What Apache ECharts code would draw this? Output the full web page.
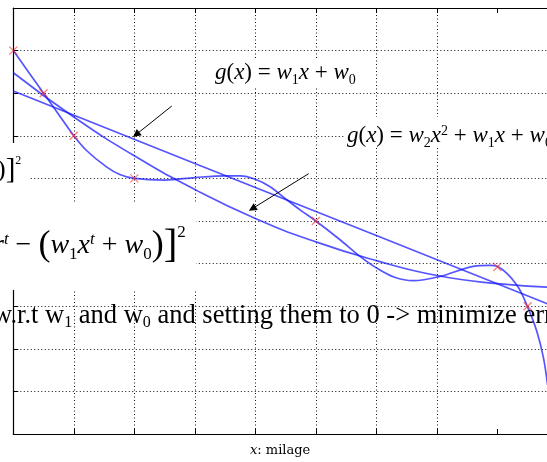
<!DOCTYPE html>
<html><head><meta charset="utf-8">
<script src="https://cdn.jsdelivr.net/npm/echarts@6/dist/echarts.min.js"></script>
<style>html,body{margin:0;padding:0;background:#fff}#c{width:547px;height:462px}</style>
</head><body><div id="c"></div>
<script>
// ---- data ----
const xTicks = [0, 1, 2, 3, 4, 5, 6, 7, 8];
const markerX = [0, 0.5, 1, 2, 5, 8, 8.5];
const markerY = [9, 8, 7, 6, 5, 3.92, 3.0];

const linX = [0, 3, 6, 9];
const linY = [8.05, 6.35, 4.66, 2.96];

const quadX = [0, 1, 2, 3, 4, 5, 6, 7, 8, 9];
const quadY = [8.48, 7.44, 6.53, 5.74, 5.06, 4.51, 4.07, 3.72, 3.53, 3.44];

const polyX = [0, 0.25, 0.5, 0.75, 1, 1.21, 1.54, 1.76, 2, 2.5, 3, 3.5, 3.75, 4, 4.25, 4.5, 4.75, 5, 5.4, 5.73, 6, 6.3, 6.61, 7.05, 7.6, 7.88, 8, 8.32, 8.5, 8.65, 8.76, 8.83];
const polyY = [9, 8.5, 8, 7.5, 7, 6.655, 6.27, 6.09, 6.0, 5.96, 6.02, 6.06, 6.06, 5.98, 5.8, 5.52, 5.25, 5.0, 4.56, 4.17, 3.9, 3.68, 3.6, 3.70, 3.935, 3.96, 3.935, 3.5, 2.98, 2.42, 1.80, 1.15];

const arrow1 = [[2.62, 7.70], [2.03, 7.03]];
const arrow2 = [[4.88, 6.11], [3.95, 5.29]];

const xName = 'milage';

// ---- chart ----
const pairs = (xs, ys) => xs.map((x, i) => [x, ys[i]]);
const blue = 'rgba(20,20,255,0.72)';
const gridDots = {color: '#111', width: 1, type: [1, 2.5]};
const serif = 'Liberation Serif';

const chart = echarts.init(document.getElementById('c'), null, {renderer: 'canvas'});

function mathRich(size) {
  const lh = size + 6;
  const base = {fontFamily: serif, lineHeight: lh, fill: '#000', verticalAlign: 'middle'};
  const small = Math.round(size * 0.6);
  return {
    i: Object.assign({}, base, {fontStyle: 'italic', fontSize: size}),
    n: Object.assign({}, base, {fontSize: size}),
    sub: Object.assign({}, base, {fontSize: small, padding: [Math.round(size * 0.6), 0, 0, 0]}),
    sup: Object.assign({}, base, {fontStyle: 'italic', fontSize: small, padding: [0, 0, Math.round(size * 0.45), 0]}),
    supn: Object.assign({}, base, {fontSize: small, padding: [0, 0, Math.round(size * 0.45), 0]}),
    bp: Object.assign({}, base, {fontSize: Math.round(size * 1.3)}),
    bb: Object.assign({}, base, {fontSize: Math.round(size * 1.45)}),
    sup2: Object.assign({}, base, {fontSize: small, padding: [0, 0, Math.round(size * 0.95), 0]})
  };
}

const option = {
  animation: false,
  backgroundColor: '#fff',
  grid: {left: 13.3, right: 0, top: 8, bottom: 25, containLabel: false},
  xAxis: [{
    type: 'value', min: 0, max: 8.82, interval: 1, position: 'bottom',
    axisLine: {show: true, lineStyle: {color: '#000', width: 1.2}},
    axisTick: {show: true, inside: true, length: 5, customValues: xTicks, lineStyle: {color: '#000'}},
    axisLabel: {show: false, customValues: xTicks},
    splitLine: {show: true, showMaxLine: false, lineStyle: gridDots},
    name: '{i|x}{n|: ' + xName + '}', nameLocation: 'middle', nameGap: 10,
    nameTextStyle: {rich: {
      i: {fontFamily: 'DejaVu Serif', fontStyle: 'italic', fontSize: 13, color: '#000'},
      n: {fontFamily: 'DejaVu Serif', fontSize: 13, color: '#000'}
    }}
  }, {
    type: 'value', min: 0, max: 8.82, interval: 1, position: 'top',
    axisLine: {show: true, lineStyle: {color: '#000', width: 1.2}},
    axisTick: {show: true, inside: true, length: 5, customValues: xTicks, lineStyle: {color: '#000'}},
    axisLabel: {show: false, customValues: xTicks},
    splitLine: {show: false}
  }],
  yAxis: [{
    type: 'value', min: 0, max: 10, interval: 1,
    axisLine: {show: true, lineStyle: {color: '#000', width: 1.2}},
    axisTick: {show: true, inside: true, length: 5, lineStyle: {color: '#000'}},
    axisLabel: {show: false},
    splitLine: {show: true, lineStyle: gridDots}
  }],
  series: [{
    type: 'line', data: pairs(linX, linY), symbol: 'none', smooth: false,
    lineStyle: {color: blue, width: 1.7}, silent: true, z: 3
  }, {
    type: 'line', data: pairs(quadX, quadY), symbol: 'none', smooth: true,
    lineStyle: {color: blue, width: 1.7}, silent: true, z: 3
  }, {
    type: 'line', data: pairs(polyX, polyY), symbol: 'none', smooth: 0.35,
    lineStyle: {color: blue, width: 1.7}, silent: true, z: 3
  }, {
    type: 'scatter', data: pairs(markerX, markerY),
    symbol: 'path://M0,0L10,10M10,0L0,10', symbolSize: 8,
    itemStyle: {color: 'rgba(0,0,0,0)', borderColor: 'rgba(255,40,40,0.75)', borderWidth: 1.3},
    silent: true, z: 4,
    markLine: {
      silent: true, symbol: ['none', 'triangle'], symbolSize: 8,
      label: {show: false},
      lineStyle: {color: '#000', width: 1, type: 'solid'},
      emphasis: {disabled: true},
      data: [
        [{coord: arrow1[0]}, {coord: arrow1[1]}],
        [{coord: arrow2[0]}, {coord: arrow2[1]}]
      ]
    }
  }],
  graphic: [
    {type: 'rect', z: 100, shape: {x: -2, y: 143, width: 32, height: 61}, style: {fill: '#fff'}},
    {type: 'rect', z: 100, shape: {x: -2, y: 202, width: 198, height: 88}, style: {fill: '#fff'}},
    {type: 'rect', z: 100, shape: {x: 205, y: 58, width: 157, height: 30}, style: {fill: '#fff'}},
    {type: 'rect', z: 100, shape: {x: 345, y: 117, width: 215, height: 31}, style: {fill: '#fff'}},
    {type: 'text', z: 101, style: {
      x: 215, y: 73, align: 'left', verticalAlign: 'middle',
      text: '{i|g}{n|(}{i|x}{n|) = }{i|w}{sub|1}{i|x}{n| + }{i|w}{sub|0}',
      rich: mathRich(23)
    }},
    {type: 'text', z: 101, style: {
      x: 347, y: 136, align: 'left', verticalAlign: 'middle',
      text: '{i|g}{n|(}{i|x}{n|) = }{i|w}{sub|2}{i|x}{supn|2}{n| + }{i|w}{sub|1}{i|x}{n| + }{i|w}{sub|0}',
      rich: mathRich(23)
    }},
    {type: 'text', z: 101, style: {
      x: -3, y: 170, align: 'left', verticalAlign: 'middle',
      text: '{bp|)}{bb|]}{sup2|2}',
      rich: mathRich(20)
    }},
    {type: 'text', z: 101, style: {
      x: -7, y: 246, align: 'left', verticalAlign: 'middle',
      text: '{i|r}{sup|t}{n| − }{bp|(}{i|w}{sub|1}{i|x}{sup|t}{n| + }{i|w}{sub|0}{bp|)}{bb|]}{sup2|2}',
      rich: mathRich(28)
    }},
    {type: 'text', z: 101, style: {
      x: -7, y: 316, align: 'left', verticalAlign: 'middle',
      text: '{t|w.r.t w}{s|1}{t| and w}{s|0}{t| and setting them to 0 -> minimize error}',
      rich: {
        t: {fontFamily: serif, fontSize: 26.5, lineHeight: 32, fill: '#000', verticalAlign: 'middle'},
        s: {fontFamily: serif, fontSize: 16, lineHeight: 32, fill: '#000', verticalAlign: 'middle', padding: [14, 0, 0, 0]}
      }
    }}
  ]
};
chart.setOption(option);
</script>
</body></html>
